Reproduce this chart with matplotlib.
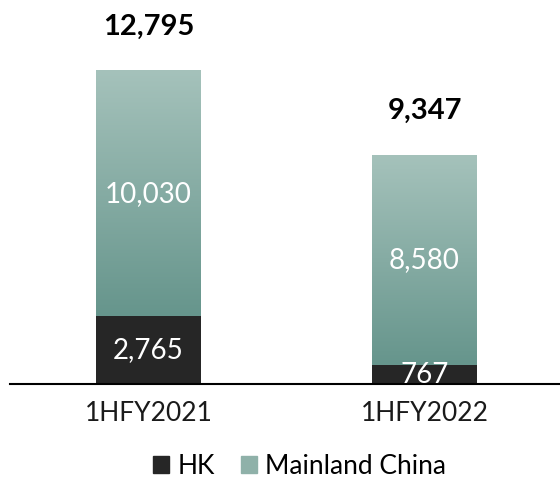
import matplotlib
matplotlib.use("Agg")
import matplotlib.pyplot as plt
from matplotlib.patches import Patch
from matplotlib.colors import LinearSegmentedColormap
import numpy as np

periods = ["1HFY2021", "1HFY2022"]
hk = [2765, 767]
mainland = [10030, 8580]
totals = [12795, 9347]

plt.rcParams['font.family'] = ['Lato', 'DejaVu Sans']

dark = "#262626"
grad = LinearSegmentedColormap.from_list("g", ["#66958c", "#a5c2bb"])

fig = plt.figure(figsize=(5.6, 4.82), dpi=100)
ax = fig.add_axes([10 / 560, 98 / 482, 550 / 560, 384 / 482])
width = 0.38
xs = np.arange(len(periods))

ax.bar(xs, hk, width=width, color=dark, zorder=2)
bars = ax.bar(xs, mainland, width=width, bottom=hk, color="none", zorder=2)

# vertical gradient inside each mainland segment
g = np.linspace(0, 1, 256).reshape(-1, 1)
for b in bars:
    x0, y0 = b.get_x(), b.get_y()
    ax.imshow(g, cmap=grad, origin="lower", aspect="auto",
              extent=[x0, x0 + b.get_width(), y0, y0 + b.get_height()], zorder=2)

for i in xs:
    ax.text(i, hk[i] / 2, f"{hk[i]:,}", ha="center", va="center",
            color="white", fontsize=20, zorder=3)
    ax.text(i, hk[i] + mainland[i] / 2, f"{mainland[i]:,}", ha="center", va="center",
            color="white", fontsize=20, zorder=3)
    ax.annotate(f"{totals[i]:,}", (i, totals[i]), xytext=(0, 32), textcoords="offset points",
                ha="center", va="center", fontsize=21, fontweight="bold", color="black")

ax.set_xlim(-0.502, 1.491)
ax.set_ylim(0, 15700)
for s in ["top", "right", "left"]:
    ax.spines[s].set_visible(False)
ax.spines["bottom"].set_linewidth(1.5)
ax.set_yticks([])
ax.set_xticks(xs)
ax.set_xticklabels(periods, fontsize=19, color="#1a1a1a")
ax.tick_params(axis="x", length=0, pad=12)

handles = [Patch(color=dark, label="HK"), Patch(color="#8fb1a9", label="Mainland China")]
fig.legend(handles=handles, loc="center", bbox_to_anchor=(0.535, 15 / 482 + 0.001),
           ncol=2, frameon=False, prop={"size": 19},
           handlelength=0.6, handleheight=0.6, handletextpad=0.3, columnspacing=1.0)

fig.savefig("out.png", dpi=100)
